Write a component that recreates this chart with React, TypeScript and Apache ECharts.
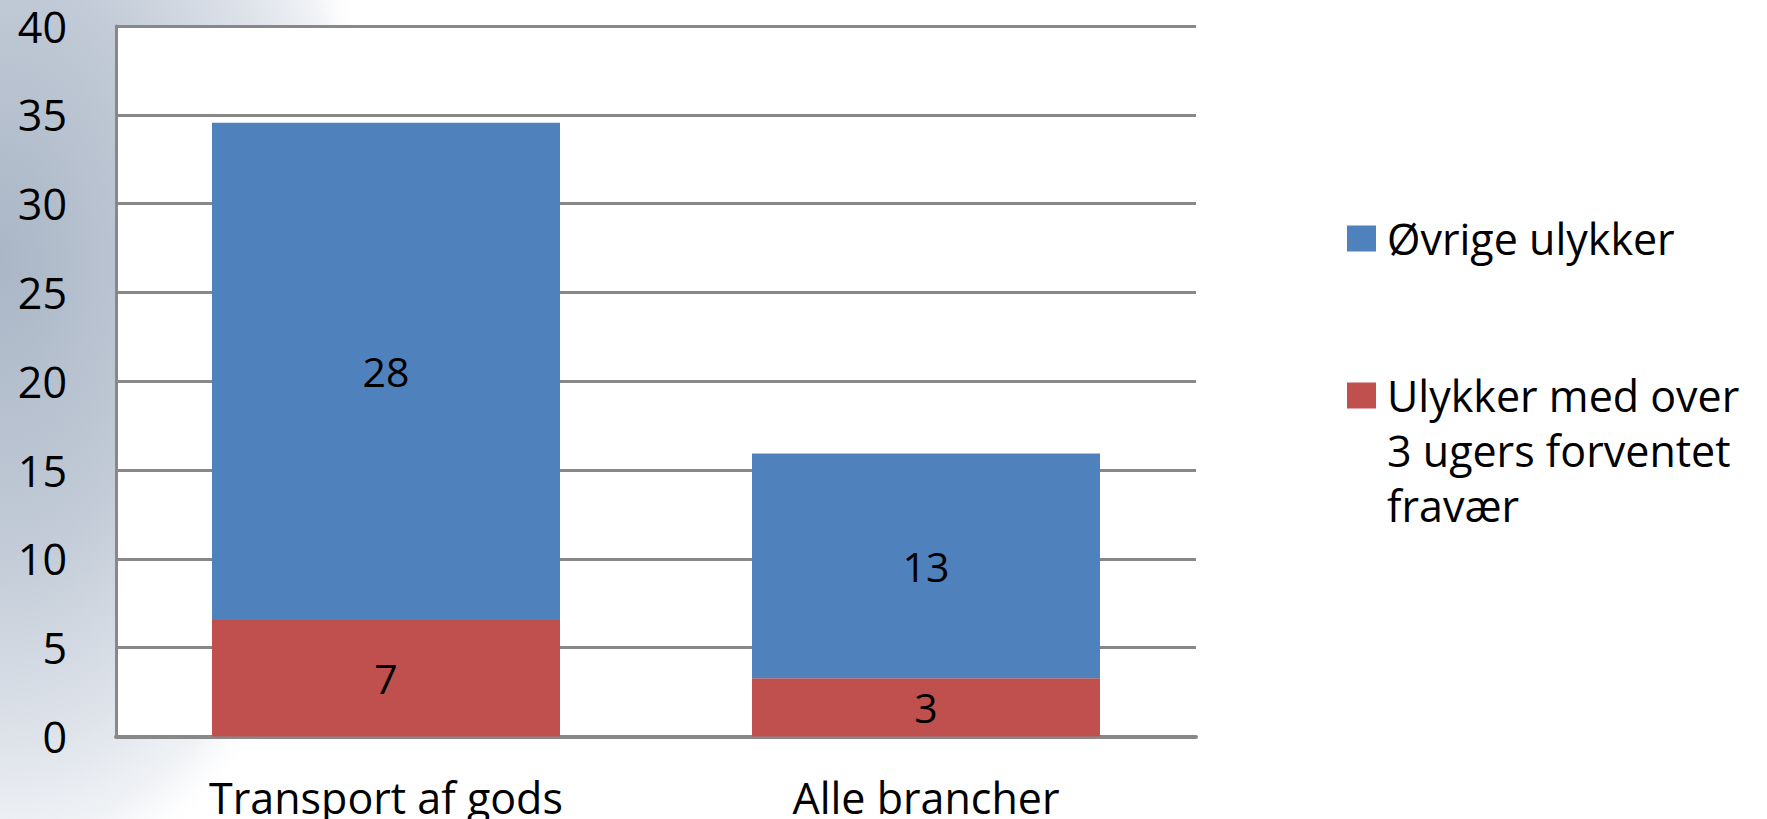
import React, { useEffect, useRef } from "react";
import * as echarts from "echarts";

const categories = ["Transport af gods", "Alle brancher"];
const seriesNames = ["Ulykker med over 3 ugers forventet fravær", "Øvrige ulykker"];
const legendLabels = ["\n\nUlykker med over\n3 ugers forventet\nfravær", "Øvrige ulykker"];
const severeValues = [6.56, 3.28];
const otherValues = [28.0, 12.65];
const yTicks = [0, 5, 10, 15, 20, 25, 30, 35, 40];

const FONT = "Open Sans";
const BLUE = "#4f81bd";
const RED = "#c0504d";
const GRID = "#888888";
const FS = 43;

export default function App() {
  const ref = useRef<HTMLDivElement>(null);
  useEffect(() => {
    if (!ref.current) return;
    const chart = echarts.init(ref.current, undefined, { renderer: "svg" });
    const labelStyle = {
      show: true,
      position: "inside",
      color: "#000",
      fontFamily: FONT,
      fontSize: 41,
      formatter: (p: any) => String(Math.round(p.value)),
    };
    const legendText = {
      fontFamily: FONT,
      fontSize: FS,
      color: "#000",
      lineHeight: 55,
      padding: [0, 0, 0, 6],
    };
    chart.setOption({
      animation: false,
      backgroundColor: "#ffffff",
      graphic: [
        {
          type: "ellipse",
          z: -100,
          silent: true,
          shape: { cx: 0, cy: 260, rx: 390, ry: 650 },
          style: {
            fill: new echarts.graphic.RadialGradient(0.5, 0.5, 0.5, [
              { offset: 0, color: "#aab6c6" },
              { offset: 0.45, color: "#c2cbd7" },
              { offset: 0.75, color: "#dfe4eb" },
              { offset: 0.9, color: "#f1f3f6" },
              { offset: 1, color: "rgba(255,255,255,0)" },
            ]),
          },
        },
      ],
      grid: {
        left: 116,
        right: 571,
        top: 26,
        bottom: 80,
        show: true,
        backgroundColor: "#ffffff",
        borderWidth: 0,
      },
      legend: [
        {
          data: [seriesNames[1]],
          orient: "vertical",
          left: 1347,
          top: 211,
          padding: 0,
          icon: "rect",
          itemWidth: 29,
          itemHeight: 26,
          formatter: () => legendLabels[1],
          textStyle: legendText,
        },
        {
          data: [seriesNames[0]],
          orient: "vertical",
          left: 1347,
          top: 258,
          padding: 0,
          icon: "rect",
          itemWidth: 29,
          itemHeight: 26,
          formatter: () => legendLabels[0],
          textStyle: legendText,
        },
      ],
      xAxis: {
        type: "category",
        data: categories,
        axisLine: { show: true, lineStyle: { color: GRID, width: 4 } },
        axisTick: { show: false },
        axisLabel: {
          color: "#000",
          fontFamily: FONT,
          fontSize: FS,
          lineHeight: 38,
          margin: 42,
        },
      },
      yAxis: {
        type: "value",
        min: yTicks[0],
        max: yTicks[yTicks.length - 1],
        interval: 5,
        axisLine: { show: true, lineStyle: { color: GRID, width: 3 } },
        axisTick: { show: false },
        axisLabel: {
          color: "#000",
          fontFamily: FONT,
          fontSize: FS,
          lineHeight: 38,
          margin: 49,
        },
        splitLine: { show: true, lineStyle: { color: GRID, width: 3 } },
      },
      series: [
        {
          name: seriesNames[0],
          type: "bar",
          stack: "total",
          barWidth: 348,
          data: severeValues,
          itemStyle: { color: RED },
          label: labelStyle,
        },
        {
          name: seriesNames[1],
          type: "bar",
          stack: "total",
          barWidth: 348,
          data: otherValues,
          itemStyle: { color: BLUE },
          label: labelStyle,
        },
      ],
    });
    return () => chart.dispose();
  }, []);
  return (
    <div
      ref={ref}
      style={{ position: "fixed", left: 0, top: 0, width: 1767, height: 819 }}
    />
  );
}
